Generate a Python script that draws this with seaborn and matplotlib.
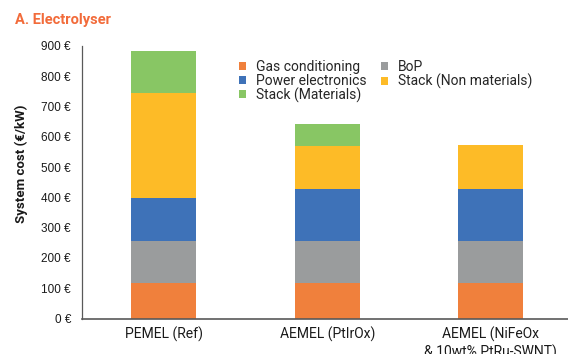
import matplotlib
matplotlib.use("Agg")
import matplotlib.pyplot as plt
import seaborn as sns
import numpy as np
import pandas as pd
from matplotlib.patches import Patch

categories = ["PEMEL (Ref)", "AEMEL (PtIrOx)", "AEMEL (NiFeOx\n& 10wt% PtRu-SWNT)"]
components = ["Gas conditioning", "BoP", "Power electronics", "Stack (Non materials)", "Stack (Materials)"]
gas_conditioning = [116, 116, 116]
bop = [139, 139, 139]
power_electronics = [143, 173, 174]
stack_non_materials = [347, 143, 143]
stack_materials = [140, 70, 0]
yticks = [0, 100, 200, 300, 400, 500, 600, 700, 800, 900]
ytick_labels = [f"{v} €" for v in yticks]

colors = ["#F0803C", "#9A9C9D", "#3E72B8", "#FDBB27", "#88C664"]

sns.set_style("white")
plt.rcParams['font.family'] = ['Roboto', 'DejaVu Sans']

series = [gas_conditioning, bop, power_electronics, stack_non_materials, stack_materials]
cum = np.cumsum(np.array(series), axis=0)

fig = plt.figure(figsize=(5.68, 3.54), dpi=100)
ax = fig.add_axes([82/568, 1 - 318.5/354, (572.5 - 82)/568, (318.5 - 46)/354])

# draw cumulative totals from top layer down so each layer shows its own slice
for i in range(len(components) - 1, -1, -1):
    df = pd.DataFrame({"cat": categories, "val": cum[i]})
    sns.barplot(data=df, x="cat", y="val", color=colors[i], width=0.4,
                saturation=1, ax=ax, linewidth=0)

ax.set_xlim(-0.5, 2.5)
ax.set_ylim(0, 900)
ax.set_yticks(yticks)
ax.set_yticklabels(ytick_labels, fontfamily=['Liberation Sans'], fontsize=8.5, color="#1a1a1a")
ax.tick_params(axis='y', length=0, pad=8)
ax.tick_params(axis='x', length=0, pad=6, labelsize=10, labelcolor="#1a1a1a")
ax.set_xlabel("")
ax.set_ylabel("System cost (€/kW)", fontsize=9.5, fontweight='semibold', color="#1a1a1a")
ax.yaxis.set_label_coords((28 - 82) / 490.5, (318.5 - 164) / 272.5)
for s in ["top", "right"]:
    ax.spines[s].set_visible(False)
ax.spines["left"].set_color("#595959")
ax.spines["bottom"].set_color("#595959")
ax.spines["left"].set_linewidth(0.9)
ax.spines["bottom"].set_linewidth(1.2)

order = [0, 2, 4, 1, 3]
handles = [Patch(facecolor=colors[i], edgecolor='none') for i in order]
labels = [components[i] for i in order]
fig.legend(handles, labels, ncol=2, loc="upper left", bbox_to_anchor=(232/568, 1 - 53/354),
           frameon=False, fontsize=10, handlelength=0.5, handleheight=0.5,
           handletextpad=0.72, columnspacing=1.06, labelspacing=-0.02, borderpad=0)

fig.text(15/568, 1 - 20/354, "A. Electrolyser", fontsize=10.5, fontweight='bold',
         color="#F26B3A", va="center", ha="left")

fig.savefig("out.png", dpi=100)
